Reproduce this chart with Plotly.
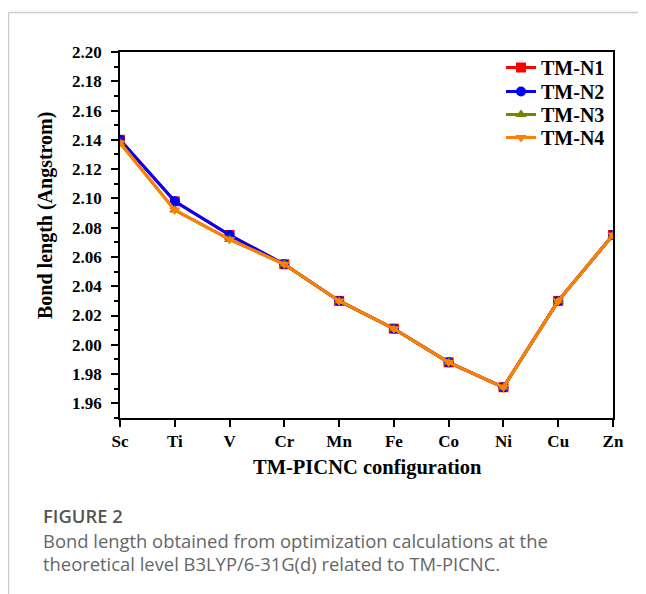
import plotly.graph_objects as go

categories = ["Sc", "Ti", "V", "Cr", "Mn", "Fe", "Co", "Ni", "Cu", "Zn"]
tm_n1 = [2.140, 2.098, 2.075, 2.055, 2.030, 2.011, 1.988, 1.971, 2.030, 2.075]
tm_n2 = [2.140, 2.098, 2.075, 2.055, 2.030, 2.011, 1.988, 1.971, 2.030, 2.075]
tm_n3 = [2.138, 2.092, 2.072, 2.055, 2.030, 2.011, 1.988, 1.971, 2.030, 2.075]
tm_n4 = [2.138, 2.092, 2.072, 2.055, 2.030, 2.011, 1.988, 1.971, 2.030, 2.075]
series_names = ["TM-N1", "TM-N2", "TM-N3", "TM-N4"]
y_ticks = [1.96, 1.98, 2.00, 2.02, 2.04, 2.06, 2.08, 2.10, 2.12, 2.14, 2.16, 2.18, 2.20]

colors = ["#ff0000", "#0000ff", "#808000", "#ff8000"]
symbols = ["square", "circle", "triangle-up", "triangle-down"]

# page body has an 8px margin; work in figure coordinates (reference px - 8)
OFF = 8
W, H = 646 - OFF, 594 - OFF
L, R, T, B = 120 - OFF, 613 - OFF, 52 - OFF, 418 - OFF

serif = "Liberation Serif, Times New Roman, serif"

def px_x(p):
    return (p - OFF - L) / (R - L)

def px_y(p):
    return (B - (p - OFF)) / (B - T)

legend_rows = [68, 92, 115, 138]
legend_keys = ["legend", "legend2", "legend3", "legend4"]

fig = go.Figure()
for name, vals, c, s, lk in zip(series_names, [tm_n1, tm_n2, tm_n3, tm_n4], colors, symbols, legend_keys):
    fig.add_trace(go.Scatter(
        x=list(range(len(categories))), y=vals, name=name, mode="lines+markers",
        line=dict(color=c, width=3), marker=dict(symbol=s, size=10, color=c),
        legend=lk,
    ))

legend_layout = {}
for lk, row in zip(legend_keys, legend_rows):
    legend_layout[lk] = dict(
        x=px_x(501), y=px_y(row - 20), xanchor="left", yanchor="top",
        bgcolor="rgba(0,0,0,0)",
        font=dict(family=serif, size=20, color="black", weight="bold"),
    )

fig.update_layout(
    width=W, height=H,
    margin=dict(l=L, r=W - R, t=T, b=H - B),
    plot_bgcolor="white", paper_bgcolor="white",
    showlegend=True,
    xaxis=dict(
        range=[0, 9], tickmode="array", tickvals=list(range(len(categories))),
        ticktext=categories, showline=True, linecolor="black", linewidth=1.5,
        mirror=True, ticks="outside", ticklen=7, tickcolor="black", tickwidth=1.5,
        tickfont=dict(family=serif, size=17, color="black", weight="bold"),
        ticklabelstandoff=0,
        showgrid=False, zeroline=False,
    ),
    yaxis=dict(
        range=[1.95, 2.20], tickmode="array", tickvals=y_ticks,
        ticktext=[f"{v:.2f}" for v in y_ticks],
        showline=True, linecolor="black", linewidth=1.5, mirror=True,
        ticks="outside", ticklen=7, tickcolor="black", tickwidth=1.5,
        minor=dict(ticks="outside", ticklen=4, dtick=0.01, tick0=1.95, tickcolor="black"),
        tickfont=dict(family=serif, size=17, color="black", weight="bold"),
        ticklabelstandoff=6,
        showgrid=False, zeroline=False,
    ),
    **legend_layout,
)

# axis titles
fig.add_annotation(xref="paper", yref="paper", x=px_x(45), y=px_y(216),
                   xanchor="center", yanchor="middle", showarrow=False, textangle=-90,
                   text="Bond length (Angstrom)",
                   font=dict(family=serif, size=20, color="black", weight="bold"))
fig.add_annotation(xref="paper", yref="paper", x=px_x(367), y=px_y(467),
                   xanchor="center", yanchor="middle", showarrow=False,
                   text="TM-PICNC configuration",
                   font=dict(family=serif, size=20.5, color="black", weight="bold"))

# page frame lines
fig.add_shape(type="line", xref="paper", yref="paper",
              x0=px_x(8.5), x1=px_x(660), y0=px_y(12.5), y1=px_y(12.5),
              line=dict(color="#cccccc", width=1.5))
fig.add_shape(type="line", xref="paper", yref="paper",
              x0=px_x(8.5), x1=px_x(8.5), y0=px_y(12.5), y1=px_y(600),
              line=dict(color="#cccccc", width=1.5))

cap_font = "Open Sans, Lato, sans-serif"
fig.add_annotation(xref="paper", yref="paper", x=px_x(41), y=px_y(515),
                   xanchor="left", yanchor="middle", showarrow=False,
                   text="FIGURE 2",
                   font=dict(family=cap_font, size=18.4, color="#555555", weight=600))
fig.add_annotation(xref="paper", yref="paper", x=px_x(41), y=px_y(540),
                   xanchor="left", yanchor="middle", showarrow=False,
                   text="Bond length obtained from optimization calculations at the",
                   font=dict(family=cap_font, size=18.4, color="#666666"))
fig.add_annotation(xref="paper", yref="paper", x=px_x(41), y=px_y(563),
                   xanchor="left", yanchor="middle", showarrow=False,
                   text="theoretical level B3LYP/6-31G(d) related to TM-PICNC.",
                   font=dict(family=cap_font, size=18.4, color="#666666"))

fig.write_html("out.html")
